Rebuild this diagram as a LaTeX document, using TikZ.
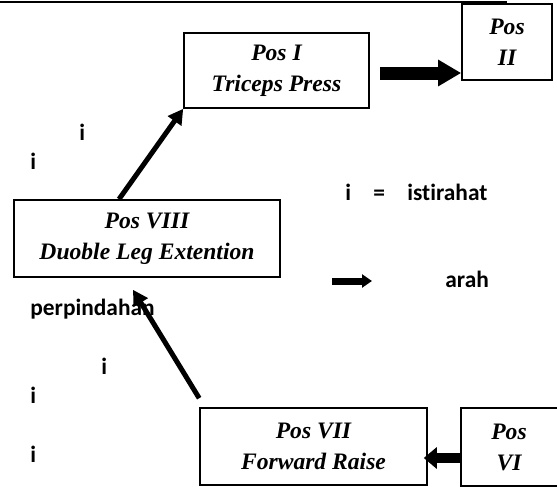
\documentclass[tikz,border=0pt]{standalone}
\usepackage{fontspec}
\setmainfont{Liberation Serif}
\newfontfamily\calfont[Ligatures=NoCommon]{Carlito}
\usetikzlibrary{arrows.meta}

\tikzset{
  posbox/.style={draw, line width=0.8pt, align=center, inner sep=0pt,
    font=\fontsize{11.8}{15.5}\selectfont\bfseries\itshape},
  lbl/.style={anchor=base west, inner sep=0pt,
    font=\calfont\fontsize{11.7}{14}\selectfont\bfseries},
  thinarrow/.style={line width=2.5pt, -{Triangle[length=7.5pt,width=8pt]}},
  blockarrow/.style={line width=6.5pt, -{Triangle[length=11.5pt,width=12.5pt]}}
}

\begin{document}
\begin{tikzpicture}[x=0.5pt,y=-0.5pt]
  \useasboundingbox (0,0) rectangle (557,487);

  % garis atas
  \draw[line width=1.2pt] (0,2) -- (507,2);

  % kotak pos
  \node[posbox, minimum width=92.5pt, minimum height=37.5pt] (posI) at (276.5,70.5) {Pos I\\Triceps Press};
  \node[posbox, minimum width=45pt, minimum height=38pt] (posII) at (507,42) {Pos\\II};
  \node[posbox, minimum width=133pt, minimum height=38.5pt] (posVIII) at (147,238.5) {Pos VIII\\Duoble Leg Extention};
  \node[posbox, minimum width=113.5pt, minimum height=38.5pt] (posVII) at (313.5,446.5) {Pos VII\\Forward Raise};
  \node[posbox, draw=none, minimum width=47pt, minimum height=38pt] (posVI) at (509,447) {Pos\\VI};
  \draw[line width=0.8pt] (posVI.south west) rectangle ([xshift=20pt]posVI.north east);

  % panah
  \draw[blockarrow, shorten <=5pt] ([yshift=-1.25pt]posI.east) -- ([yshift=-1.25pt]posI.east -| posII.west);
  \draw[line width=5pt, -{Triangle[length=6.5pt,width=10.5pt]}, shorten >=-2pt]
    ([yshift=-5.5pt]posVI.west) -- ([yshift=-5.5pt]posVI.west -| posVII.east);
  \draw[thinarrow] ([xshift=-14pt]posVIII.north) -- (posI.south west);
  \draw[thinarrow] ([yshift=4.5pt]posVII.north west) -- ([xshift=-7pt,yshift=-6pt]posVIII.south);

  % keterangan
  \node[lbl] (i1) at (79,140) {i};
  \node[lbl] (i2) at (30,169) {i};
  \node[lbl] (i3) at (345,200) {i};
  \node[lbl] (eq) at (373,200) {=};
  \node[lbl] (ist) at (407,200) {istirahat};
  \coordinate (legA) at (332,281);
  \coordinate (legB) at (372,281);
  \draw[line width=3.5pt, -{Triangle[length=5pt,width=6.5pt]}] (legA) -- (legB);
  \node[lbl] (arah) at (445,287) {arah};
  \node[lbl] (pindah) at (30,315) {perpindahan};
  \node[lbl] (i4) at (101,374) {i};
  \node[lbl] (i5) at (30,403) {i};
  \node[lbl] (i6) at (30,462) {i};
\end{tikzpicture}
\end{document}
